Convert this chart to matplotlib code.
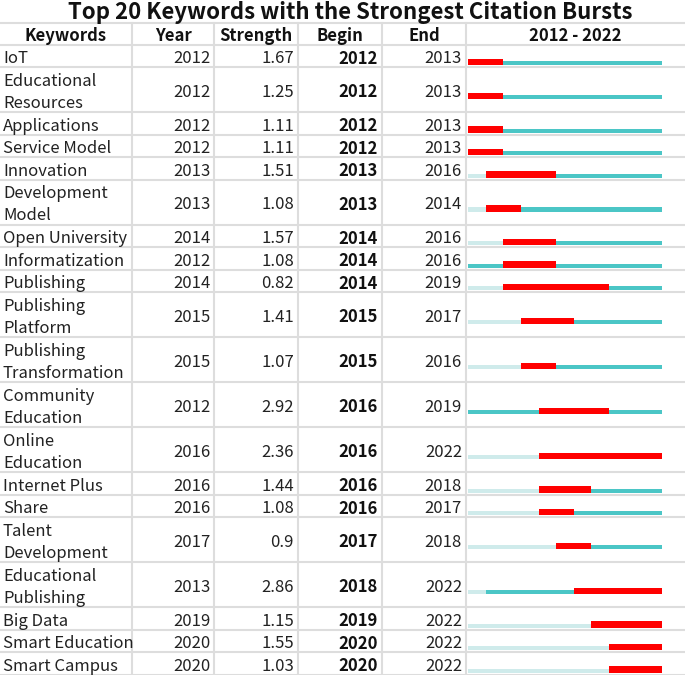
import matplotlib
matplotlib.use("Agg")
import matplotlib.pyplot as plt

plt.rcParams['font.family'] = ['Noto Sans CJK SC', 'DejaVu Sans']

title = "Top 20 Keywords with the Strongest Citation Bursts"
headers = ["Keywords", "Year", "Strength", "Begin", "End", "2012 - 2022"]
keywords = ["IoT", "Educational\nResources", "Applications", "Service Model",
            "Innovation", "Development\nModel", "Open University", "Informatization",
            "Publishing", "Publishing\nPlatform", "Publishing\nTransformation",
            "Community\nEducation", "Online\nEducation", "Internet Plus", "Share",
            "Talent\nDevelopment", "Educational\nPublishing", "Big Data",
            "Smart Education", "Smart Campus"]
years = [2012, 2012, 2012, 2012, 2013, 2013, 2014, 2012, 2014, 2015, 2015,
         2012, 2016, 2016, 2016, 2017, 2013, 2019, 2020, 2020]
strength = [1.67, 1.25, 1.11, 1.11, 1.51, 1.08, 1.57, 1.08, 0.82, 1.41, 1.07,
            2.92, 2.36, 1.44, 1.08, 0.9, 2.86, 1.15, 1.55, 1.03]
begin = [2012, 2012, 2012, 2012, 2013, 2013, 2014, 2014, 2014, 2015, 2015,
         2016, 2016, 2016, 2016, 2017, 2018, 2019, 2020, 2020]
end = [2013, 2013, 2013, 2013, 2016, 2014, 2016, 2016, 2019, 2017, 2016,
       2019, 2022, 2018, 2017, 2018, 2022, 2022, 2022, 2022]
first_year, last_year = 2012, 2022

W, H = 685, 675
fig = plt.figure(figsize=(W / 100, H / 100), dpi=100)
ax = fig.add_axes([0, 0, 1, 1])
ax.set_xlim(0, W)
ax.set_ylim(H, 0)
ax.axis('off')

# layout (pixels)
col_edges = [0, 132, 214, 298, 382, 466, 685]
table_top = 22.5
header_h = 22
line_h = 22.5
grid_c = '#dddddd'
text_c = '#222222'
fs = 12
dy = 2.8  # vertical correction for font metrics
body_w = 'light'

tl_left, tl_right = 468, 662
tax = fig.add_axes([tl_left / W, 0, (tl_right - tl_left) / W, 1])
tax.set_xlim(first_year, last_year + 1)
tax.set_ylim(H, 0)
tax.axis('off')
tax.patch.set_alpha(0)

ax.text(350, 12, title, ha='center', va='center', fontsize=16,
        fontweight='bold', color='#111111')

# header
hy = table_top + header_h / 2 + dy
for j, h in enumerate(headers):
    cx = (col_edges[j] + col_edges[j + 1]) / 2
    ax.text(cx, hy, h, ha='center', va='center', fontsize=fs,
            fontweight='bold', color='#111111')

ax.axhline(table_top, color=grid_c, lw=1.5)
y = table_top + header_h
ax.axhline(y, color=grid_c, lw=1.5)

for i, kw in enumerate(keywords):
    nlines = kw.count("\n") + 1
    rh = line_h * nlines
    yc = y + rh / 2
    yt = yc + dy
    ax.text(3, yt, kw, ha='left', va='center', fontsize=fs, color=text_c,
            linespacing=1.38, fontweight=body_w)
    ax.text(col_edges[2] - 3, yt, str(years[i]), ha='right', va='center',
            fontsize=fs, color=text_c, fontweight=body_w)
    ax.text(col_edges[3] - 4, yt, f"{strength[i]:g}", ha='right', va='center',
            fontsize=fs, color=text_c, fontweight=body_w)
    ax.text(col_edges[4] - 4, yt, str(begin[i]), ha='right', va='center',
            fontsize=fs, color='#111111', fontweight='bold')
    ax.text(col_edges[5] - 4, yt, str(end[i]), ha='right', va='center',
            fontsize=fs, color=text_c, fontweight=body_w)

    # timeline bars (bottom-aligned)
    yb = yc + 9.5
    th, rh_ = 4.2, 6.5
    if years[i] > first_year:
        tax.barh(yb - th / 2, years[i] - first_year, left=first_year, height=th,
                 color='#cfebeb', linewidth=0)
    tax.barh(yb - th / 2, last_year + 1 - years[i], left=years[i], height=th,
             color='#4bc6c6', linewidth=0)
    tax.barh(yb - rh_ / 2, end[i] + 1 - begin[i], left=begin[i], height=rh_,
             color='#ff0000', linewidth=0)

    y += rh
    ax.axhline(y, color=grid_c, lw=1.5)

for x in col_edges[1:-1]:
    ax.plot([x, x], [table_top, y], color=grid_c, lw=1.5)

fig.savefig("out.png", dpi=100)
